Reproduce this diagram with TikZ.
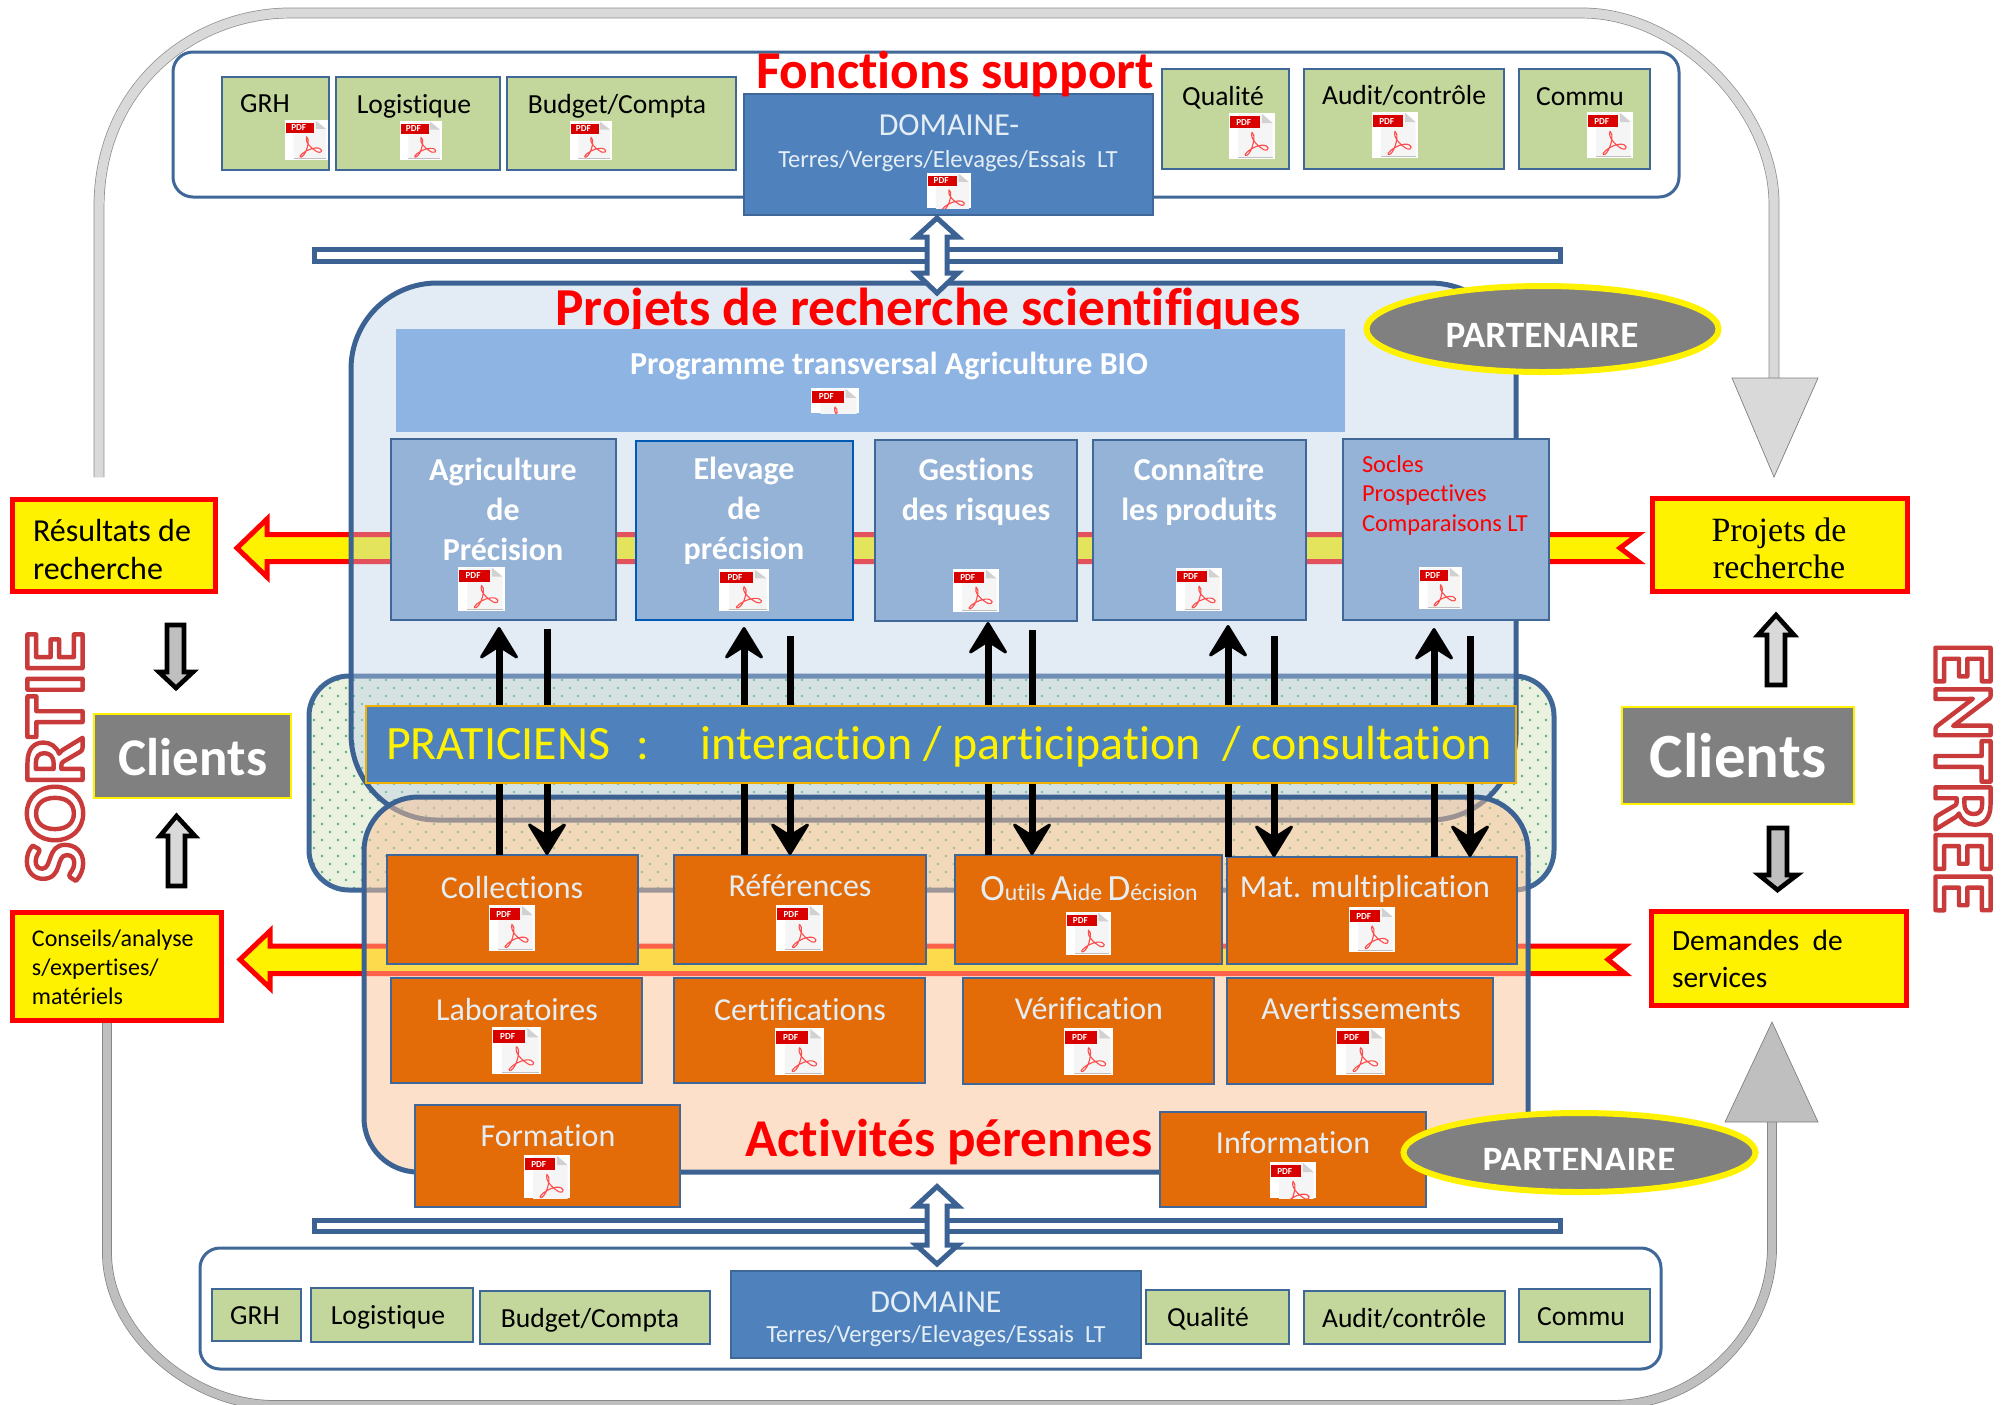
\documentclass[tikz,border=0pt]{standalone}
\usepackage{fontspec}
\setmainfont[Ligatures=NoCommon]{Carlito}
\newfontfamily\serifcambria{Liberation Serif}
\usetikzlibrary{shapes.geometric,arrows.meta,calc}
\definecolor{edgeblue}{HTML}{3F6797}
\definecolor{barblue}{HTML}{3B6292}
\definecolor{leaf}{HTML}{C3D69B}
\definecolor{domblue}{HTML}{4F81BD}
\definecolor{progblue}{HTML}{8EB4E3}
\definecolor{cellblue}{HTML}{95B3D7}
\definecolor{orangecell}{HTML}{E36C09}
\definecolor{paletext}{HTML}{E4EEF4}
\definecolor{hatchfill}{HTML}{EAF1DF}
\definecolor{dotgreen}{HTML}{4FB380}
\definecolor{projfill}{HTML}{B9CDE6}
\definecolor{actfill}{HTML}{FBC397}
\definecolor{darkgold}{HTML}{F0B000}
\newcounter{pdfc}
\tikzset{
  x=0.5pt,y=-0.5pt,
  cell/.style={rectangle,inner sep=0pt,outer sep=0pt},
  greenbox/.style={cell,fill=leaf,draw=edgeblue,line width=1.3pt},
  dombox/.style={cell,fill=domblue,draw=edgeblue,line width=1.3pt},
  progbox/.style={cell,fill=progblue},
  bluebox/.style={cell,fill=cellblue,draw=edgeblue,line width=1.3pt},
  orangebox/.style={cell,fill=orangecell,draw=edgeblue,line width=1.3pt},
  yellowbox/.style={cell,fill=yellow,draw=red,line width=2.5pt},
  clientbox/.style={cell,fill=black!50,draw=yellow,line width=1.2pt},
  praticbox/.style={cell,fill=domblue,draw=darkgold,line width=1.4pt},
  partner/.style={ellipse,inner sep=0pt,fill=black!50,draw=yellow,line width=3pt},
  txt/.style={inner sep=0pt,outer sep=0pt},
  lbl/.style={txt,black,font=\fontsize{13.8pt}{16pt}\selectfont},
  title/.style={txt,red,font=\bfseries\fontsize{26.6pt}{30pt}\selectfont},
  whitebold/.style={txt,white,align=center,font=\bfseries\fontsize{16pt}{20pt}\selectfont},
  orangetxt/.style={txt,paletext,font=\fontsize{16pt}{18pt}\selectfont},
  domtxt/.style={txt,paletext,font=\fontsize{16pt}{18pt}\selectfont},
  domsub/.style={txt,paletext,font=\fontsize{12.3pt}{14pt}\selectfont},
  panel/.style={draw=edgeblue,line width=1.5pt,fill=white,rounded corners=10pt},
  flowband/.style={line width=0.35pt},
  hollowbar/.style={draw=barblue,fill=white,line width=2.5pt},
  hollowarrow/.style={draw=barblue,fill=white,line width=2.5pt,miter limit=10},
  ribbon/.style={fill=yellow,draw=red,line width=2.5pt,miter limit=10},
  blockarrow/.style={draw=black,line width=2.3pt,miter limit=10},
  upar/.style={line width=3.5pt,-{Stealth[length=18pt,width=22pt,inset=7pt,round,line width=1.5pt]}},
  downar/.style={line width=3.5pt,-{Stealth[length=18pt,width=22pt,inset=7pt,round,line width=1.5pt]}},
}
% name, style, left, top, right, bottom
\newcommand{\bx}[6]{\node[#2,minimum width={(#5-#3)*0.5pt},minimum height={(#6-#4)*0.5pt}] (#1) at ({(#3+#5)/2},{(#4+#6)/2}) {};}
% left, top, right, visible bottom, full height
\newcommand{\pdficon}[5]{%
  \stepcounter{pdfc}%
  \begin{scope}
    \clip (#1,#2) rectangle (#3,#4);
    \fill[white] (#1,#2) rectangle (#3,#4);
    \begin{scope}[shift={(#1,#2)},xscale={(#3-#1)/100},yscale={#5/100}]
      \fill[black!4] (20,2) -- (72,2) -- (95,22) -- (95,96) -- (20,96) -- cycle;
      \fill[black!18] (72,2) -- (95,22) -- (72,22) -- cycle;
      \fill[black!25] (20,95) rectangle (95,98);
      \fill[red!85!black] (2,7) rectangle (68,33);
      \draw[red!70!white,line width=0.55pt,line join=round]
        (50,42) .. controls (45,55) and (62,72) .. (76,80)
        .. controls (90,84) and (88,68) .. (70,70)
        .. controls (55,72) and (40,82) .. (35,90)
        .. controls (34,96) and (42,92) .. (47,82)
        .. controls (53,70) and (58,46) .. (50,42) -- cycle;
      \node[txt,white,font=\bfseries\fontsize{4.6pt}{5pt}\selectfont] (pdf\thepdfc) at (32,20) {PDF};
    \end{scope}
  \end{scope}%
}
\begin{document}
\begin{tikzpicture}
\useasboundingbox (0,0) rectangle (2011,1404);
\fill[white] (0,0) rectangle (2011,1404);

% --- big flow arrows ---
\draw[flowband,draw=black!45,double=black!15,double distance=4.7pt]
  (99,477) -- (99,207) .. controls (99,85) and (195,13) .. (290,13) -- (1582,13)
  .. controls (1680,13) and (1774,110) .. (1774,204) -- (1774,380);
\draw[flowband,draw=black!50,fill=black!15] (1732,378) -- (1818,378) -- (1774,477) -- cycle;
\draw[flowband,draw=black!50,double=black!25,double distance=4.2pt]
  (107,1022) -- (107,1253) .. controls (107,1332) and (190,1405) .. (274,1405) -- (1612,1405)
  .. controls (1700,1405) and (1772,1332) .. (1772,1247) -- (1772,1120);
\draw[flowband,draw=black!50,fill=black!25] (1725,1122) -- (1818,1122) -- (1772,1022) -- cycle;

% --- support panels ---
\draw[panel] (173,52) rectangle (1679,197);
\draw[panel] (200,1248) rectangle (1661,1369);

\bx{grhT}{greenbox}{222}{77}{329}{170}
\bx{logT}{greenbox}{336}{77}{500}{170}
\bx{budT}{greenbox}{507}{77}{736}{170}
\bx{domT}{dombox}{744}{94}{1153}{215}
\bx{quaT}{greenbox}{1162}{69}{1289}{169}
\bx{audT}{greenbox}{1304}{69}{1504}{169}
\bx{comT}{greenbox}{1519}{69}{1650}{169}
\node[lbl] (tgrhT) at (265,104) {GRH};
\node[lbl] (tlogT) at (414,106) {Logistique};
\node[lbl] (tbudT) at (617,106) {Budget/Compta};
\node[lbl] (tquaT) at (1223,98) {Qualité};
\node[lbl] (taudT) at (1404,95) {Audit/contrôle};
\node[lbl] (tcomT) at (1580,97) {Commu};
\node[domtxt] (tdomT) at (949,125) {DOMAINE-};
\node[domsub] (tsubT) at (948,161) {Terres/Vergers/Elevages/Essais~~LT};
\node[title] (tfonc) at (955,74) {Fonctions support};
\pdficon{285}{120}{328}{160}{40}
\pdficon{400}{121}{442}{160}{39}
\pdficon{570}{121}{612}{160}{39}
\pdficon{927}{173}{971}{208}{40}
\pdficon{1229}{113}{1275}{159}{46}
\pdficon{1372}{112}{1418}{158}{46}
\pdficon{1587}{112}{1633}{158}{46}

\bx{grhB}{greenbox}{212}{1289}{301}{1341}
\bx{logB}{greenbox}{311}{1288}{473}{1342}
\bx{budB}{greenbox}{480}{1291}{710}{1344}
\bx{domB}{dombox}{731}{1271}{1141}{1358}
\bx{quaB}{greenbox}{1146}{1290}{1289}{1344}
\bx{audB}{greenbox}{1304}{1291}{1505}{1344}
\bx{comB}{greenbox}{1519}{1289}{1650}{1342}
\node[lbl] (tgrhB) at (255,1316) {GRH};
\node[lbl] (tlogB) at (388,1317) {Logistique};
\node[lbl] (tbudB) at (590,1320) {Budget/Compta};
\node[lbl] (tquaB) at (1208,1319) {Qualité};
\node[lbl] (taudB) at (1404,1318) {Audit/contrôle};
\node[lbl] (tcomB) at (1581,1317) {Commu};
\node[domtxt] (tdomB) at (936,1302) {DOMAINE};
\node[domsub] (tsubB) at (936,1336) {Terres/Vergers/Elevages/Essais~~LT};

% --- bars ---
\draw[hollowbar] (314.5,249) rectangle (1560.5,261.5);
\draw[hollowbar] (314.5,1220.5) rectangle (1560.5,1231.5);

% --- hatched praticiens zone ---
\draw[draw=none,fill=hatchfill,rounded corners=20pt] (309,676) rectangle (1554,890);
\begin{scope}
  \clip[rounded corners=20pt] (309,676) rectangle (1554,890);
  \foreach \r in {0,...,27}{
    \pgfmathsetmacro{\off}{mod(\r,2)*8}
    \foreach \c in {0,...,78}{
      \fill[dotgreen] ({306+\off+16*\c},{680+8*\r}) circle (1.3);
    }
  }
\end{scope}
\draw[draw=edgeblue,line width=2.5pt,rounded corners=20pt] (309,676) rectangle (1554,890);

% --- upper ribbon and projets ---
\draw[ribbon] (1500,534.5) -- (1638,534.5) -- (1620,548) -- (1638,561.5) -- (1500,561.5) --
  (267,561.5) -- (267,577) -- (237,548) -- (267,519) -- (267,534.5) -- cycle;
\draw[fill=projfill,fill opacity=0.4,draw=barblue,line width=2.5pt,rounded corners=43pt] (351,283) rectangle (1516,820);
\node[title,font=\bfseries\fontsize{26.7pt}{30pt}\selectfont] (tproj) at (928,311) {Projets de recherche scientifiques};
\bx{prog}{progbox}{396}{329}{1345}{432}
\node[whitebold] (tprog) at (889,366) {Programme transversal Agriculture BIO};
\pdficon{811}{388}{859}{413}{45}

% --- lower ribbon and activites ---
\draw[ribbon] (1500,946) -- (1625,946) -- (1608,959.5) -- (1625,973.5) -- (1500,973.5) --
  (270,973.5) -- (270,988) -- (240,959.5) -- (270,931) -- (270,946) -- cycle;
\draw[fill=actfill,fill opacity=0.5,draw=barblue,line width=2.5pt,rounded corners=27pt] (364,797) rectangle (1528,1172);
\node[title] (tact) at (949,1142) {Activités pérennes};

% --- research cells ---
\bx{agri}{bluebox}{391}{439}{616}{620}
\bx{elev}{bluebox,draw=blue!50!cyan!70!black}{636}{441}{853}{620}
\bx{gest}{bluebox}{875}{440}{1077}{621}
\bx{conn}{bluebox}{1093}{440}{1306}{620}
\bx{socl}{bluebox}{1343}{439}{1549}{620}
\node[whitebold] (tagri) at (503,509) {Agriculture\\de\\Précision};
\node[whitebold] (telev) at (744,511) {Elevage\\de\\précision};
\node[whitebold] (tgest) at (976,492) {Gestions\\des risques};
\node[whitebold] (tconn) at (1199,492) {Connaître\\les produits};
\node[txt,red,align=left,anchor=west,font=\fontsize{12.2pt}{14.75pt}\selectfont] (tsocl) at (1362,495) {Socles\\Prospectives\\Comparaisons LT};
\pdficon{458}{567}{505}{611}{44}
\pdficon{719}{569}{769}{611}{42}
\pdficon{953}{569}{999}{612}{43}
\pdficon{1176}{568}{1222}{611}{43}
\pdficon{1419}{567}{1462}{609}{42}

% --- activity cells ---
\bx{coll}{orangebox}{387}{855}{638}{964}
\bx{refe}{orangebox}{674}{855}{926}{964}
\bx{oad}{orangebox}{955}{855}{1222}{964}
\bx{matm}{orangebox}{1227}{857}{1517}{964}
\bx{labo}{orangebox}{391}{978}{642}{1083}
\bx{cert}{orangebox}{674}{978}{925}{1083}
\bx{veri}{orangebox}{963}{978}{1214}{1084}
\bx{aver}{orangebox}{1227}{978}{1493}{1084}
\bx{form}{orangebox}{415}{1105}{680}{1207}
\bx{info}{orangebox}{1160}{1112}{1426}{1207}
\node[orangetxt] (tcoll) at (512,887) {Collections};
\node[orangetxt] (trefe) at (800,886) {Références};
\node[txt,paletext,font=\fontsize{11.9pt}{14pt}\selectfont] (toad) at (1089,889) {{\fontsize{18.5pt}{14pt}\selectfont O}utils {\fontsize{18.5pt}{14pt}\selectfont A}ide {\fontsize{18.5pt}{14pt}\selectfont D}écision};
\node[orangetxt] (tmatm) at (1365,889) {Mat. multiplication};
\node[orangetxt] (tlabo) at (517,1009) {Laboratoires};
\node[orangetxt] (tcert) at (800,1010) {Certifications};
\node[orangetxt] (tveri) at (1089,1009) {Vérification};
\node[orangetxt] (taver) at (1361,1009) {Avertissements};
\node[orangetxt] (tform) at (548,1136) {Formation};
\node[orangetxt] (tinfo) at (1293,1143) {Information};
\pdficon{489}{905}{535}{951}{46}
\pdficon{776}{905}{823}{951}{46}
\pdficon{1066}{912}{1111}{955}{43}
\pdficon{1349}{907}{1395}{952}{45}
\pdficon{492}{1027}{541}{1074}{47}
\pdficon{775}{1028}{824}{1075}{47}
\pdficon{1064}{1028}{1113}{1075}{47}
\pdficon{1336}{1028}{1385}{1075}{47}
\pdficon{524}{1155}{570}{1198}{46}
\pdficon{1270}{1162}{1316}{1198}{46}

% --- black exchange arrows ---
\coordinate (ua1) at (499,627);
\coordinate (ua2) at (744,627);
\coordinate (ua3) at (988,622);
\coordinate (ua4) at (1228,625);
\coordinate (ua5) at (1434,628);
\coordinate (da1) at (547,629);
\coordinate (da2) at (790,636);
\coordinate (da3) at (1032,630);
\coordinate (da4) at (1274,636);
\coordinate (da5) at (1470,636);
\draw[upar] (coll.north -| ua1) -- (ua1);
\draw[upar] (refe.north -| ua2) -- (ua2);
\draw[upar] (oad.north -| ua3) -- (ua3);
\draw[upar] (matm.north -| ua4) -- (ua4);
\draw[upar] (matm.north -| ua5) -- (ua5);
\draw[downar] (da1) -- (coll.north -| da1);
\draw[downar] (da2) -- (refe.north -| da2);
\draw[downar] (da3) -- (oad.north -| da3);
\draw[downar] (da4) -- (matm.north -| da4);
\draw[downar] (da5) -- (matm.north -| da5);

% --- praticiens band ---
\bx{prat}{praticbox}{366}{706}{1516}{783}
\node[txt,yellow,anchor=west,font=\fontsize{23.95pt}{26pt}\selectfont] (tprat) at (386,747) {PRATICIENS\hspace{13pt}:\hspace{26pt}interaction~/~participation~~/~consultation};

% --- hollow double arrows ---
\draw[hollowarrow] (937,218) -- (958,237) -- (947,237) -- (947,273) -- (958,273) -- (937,293) -- (916,273) -- (927,273) -- (927,237) -- (916,237) -- cycle;
\draw[hollowarrow] (937,1186.5) -- (958,1206) -- (947,1206) -- (947,1245) -- (958,1245) -- (937,1264) -- (916,1245) -- (927,1245) -- (927,1206) -- (916,1206) -- cycle;

% --- partners ---
\node[partner,minimum width=176pt,minimum height=43pt] (partT) at (1542.5,329) {};
\node[partner,minimum width=176pt,minimum height=39.5pt] (partB) at (1579.5,1152.5) {};
\node[txt,white,font=\bfseries\fontsize{18.6pt}{20pt}\selectfont] (tpartT) at (1542,335) {PARTENAIRE};
\begin{scope}
  \clip (1400,1110) rectangle (1759,1169);
  \node[txt,white,font=\bfseries\fontsize{18.6pt}{20pt}\selectfont] (tpartB) at (1579,1160) {PARTENAIRE};
\end{scope}

% --- clients and yellow boxes ---
\bx{cliL}{clientbox}{94}{714}{291}{798}
\bx{cliR}{clientbox}{1622}{707}{1854}{804}
\node[txt,white,font=\bfseries\fontsize{26.5pt}{28pt}\selectfont] (tcliL) at (193,757) {Clients};
\node[txt,white,font=\bfseries\fontsize{31.5pt}{34pt}\selectfont] (tcliR) at (1738,756) {Clients};
\bx{resu}{yellowbox}{12}{499}{215}{591}
\bx{cons}{yellowbox}{12}{912}{221}{1020}
\bx{proj}{yellowbox}{1652}{498}{1907}{591}
\bx{dema}{yellowbox}{1651}{911}{1906}{1005}
\node[txt,black,align=left,anchor=west,font=\fontsize{16pt}{19pt}\selectfont] (tresu) at (33,549) {Résultats de\\recherche};
\node[txt,black,align=left,anchor=west,font=\fontsize{12pt}{14.5pt}\selectfont] (tcons) at (32,967) {Conseils/analyse\\s/expertises/\\matériels};
\node[txt,black,align=center,font=\serifcambria\fontsize{17pt}{18.6pt}\selectfont] (tproj2) at (1779,548) {Projets de\\recherche};
\node[txt,black,align=left,anchor=west,font=\fontsize{14.7pt}{18.5pt}\selectfont] (tdema) at (1672,959) {Demandes~~de\\services};

% --- small block arrows ---
\draw[blockarrow,fill=black!25] (167,625) -- (184,625) -- (184,672) -- (193,672) -- (176,688) -- (159,672) -- (167,672) -- cycle;
\draw[blockarrow,fill=black!15] (176.5,816) -- (195,836) -- (185,836) -- (185,886) -- (168,886) -- (168,836) -- (160,836) -- cycle;
\draw[blockarrow,fill=black!15] (1776,615) -- (1794,635) -- (1785,635) -- (1785,685) -- (1767,685) -- (1767,635) -- (1758,635) -- cycle;
\draw[blockarrow,fill=black!25] (1769,828) -- (1787,828) -- (1787,875) -- (1797,875) -- (1777.5,890) -- (1759,875) -- (1769,875) -- cycle;

% --- vertical outlined words ---
\node[txt,rotate=90,font=\bfseries\fontsize{42.5pt}{46pt}\selectfont] (sortie) at (55,757)
  {\color{white}\special{pdf:code 2 Tr 2.2 w 0.79 0.23 0.23 RG 1 j}SORTIE\special{pdf:code 0 Tr}};
\node[txt,rotate=-90,font=\bfseries\fontsize{42.5pt}{46pt}\selectfont] (entree) at (1963,778)
  {\color{white}\special{pdf:code 2 Tr 2.2 w 0.79 0.23 0.23 RG 1 j}ENTREE\special{pdf:code 0 Tr}};
\end{tikzpicture}
\end{document}
